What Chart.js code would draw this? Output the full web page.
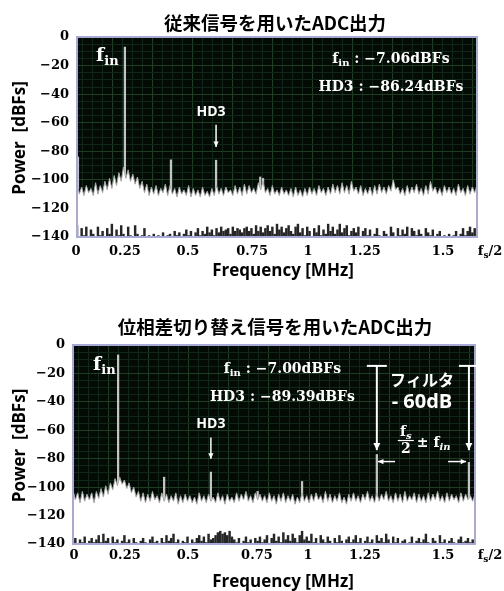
<!DOCTYPE html>
<html><head><meta charset="utf-8">
<script src="https://cdn.jsdelivr.net/npm/chart.js@4.4.1/dist/chart.umd.min.js"></script>
<style>
html,body{margin:0;padding:0;background:#fff;}
#wrap{position:relative;width:504px;height:591px;overflow:hidden;}
canvas{position:absolute;left:0;}
#c1{top:0;} #c2{top:290px;}
</style></head><body>
<div id="wrap">
<canvas id="c1" width="504" height="290"></canvas>
<canvas id="c2" width="504" height="301"></canvas>
</div>
<script>
// ---------------- data ----------------
const STEP = 0.01;      // MHz per FFT bin (as read)
const FS_HALF = 1.72;   // MHz, right edge (fs/2)
const yTickValues = [0,-20,-40,-60,-80,-100,-120,-140];
const xTickLabels = ['0','0.25','0.5','0.75','1','1.25','1.5','fs/2'];
const xTickFreq1 = [-0.004,0.206,0.477,0.753,0.993,1.238,1.574,1.776];
const xTickFreq2 = [0.004,0.222,0.492,0.787,1.006,1.249,1.583,1.784];
const title1 = '従来信号を用いたADC出力';
const title2 = '位相差切り替え信号を用いたADC出力';
const xTitle = 'Frequency [MHz]';
const yTitle = 'Power  [dBFs]';

const fin1 = -7.06, hd3_1 = -86.24;
const fin2 = -7.00, hd3_2 = -89.39;

const peakFreq1 = [0.004, 0.206, 0.404, 0.598, 0.788, 0.800];
const peakLevel1 = [-84, fin1, -86, hd3_1, -98, -99];
const peakFreq2 = [0.193, 0.390, 0.590, 0.790, 0.980, 1.300, 1.694];
const peakLevel2 = [fin2, -93, hd3_2, -103, -96, -77, -82.6];

const noiseTop1 = [
-103,-110,-105,-111,-104,-109,-106,-111,-102,-110,
-104,-109,-101,-107,-99,-106,-97,-104,-95,-101,
-91,-99,-93,-101,-96,-103,-98,-106,-101,-109,
-103,-111,-105,-110,-104,-111,-106,-109,-103,-111,
-104,-110,-106,-112,-105,-110,-107,-111,-104,-112,
-106,-111,-107,-112,-105,-111,-108,-112,-106,-111,
-104,-110,-106,-111,-105,-109,-107,-111,-104,-110,
-105,-111,-103,-110,-104,-109,-106,-110,-102,-107,
-101,-109,-106,-111,-104,-110,-107,-111,-105,-110,
-107,-111,-106,-112,-105,-111,-107,-112,-106,-111,
-105,-110,-106,-111,-104,-109,-106,-111,-105,-110,
-103,-109,-104,-110,-102,-109,-104,-110,-101,-108,
-105,-110,-104,-111,-106,-110,-105,-111,-104,-110,
-103,-109,-105,-110,-104,-108,-100,-107,-105,-110,
-106,-111,-104,-110,-105,-109,-103,-110,-106,-111,
-104,-110,-101,-108,-105,-110,-106,-111,-104,-109,
-105,-110,-106,-111,-103,-109,-106,-111,-104,-110,
-105,-109,-104];
const noiseBottom1 = [
-132,-140,-134,-139,-133,-140,-135,-138,-140,-133,
-139,-136,-140,-134,-138,-131,-140,-135,-139,-132,
-138,-140,-133,-139,-140,-132,-138,-140,-139,-134,
-140,-139,-140,-138,-140,-139,-140,-137,-140,-139,
-138,-140,-136,-139,-137,-140,-138,-135,-139,-136,
-140,-137,-134,-139,-136,-138,-133,-137,-135,-139,
-134,-137,-133,-136,-135,-134,-138,-133,-136,-134,
-135,-137,-134,-133,-136,-134,-138,-132,-136,-133,
-137,-134,-132,-136,-133,-138,-131,-135,-133,-137,
-134,-132,-136,-138,-133,-131,-137,-134,-139,-133,
-136,-140,-134,-137,-132,-139,-135,-138,-131,-136,
-133,-138,-135,-131,-137,-134,-132,-139,-136,-134,
-137,-133,-140,-136,-134,-139,-135,-140,-138,-134,
-139,-140,-136,-138,-140,-133,-137,-140,-134,-139,
-135,-138,-133,-140,-134,-136,-139,-135,-138,-140,
-134,-137,-139,-135,-140,-138,-136,-140,-139,-140,
-138,-140,-139,-136,-140,-138,-134,-139,-136,-133,
-137,-134,-135];

const noiseTop2 = [
-102,-109,-104,-111,-103,-110,-105,-109,-104,-111,
-103,-108,-101,-107,-99,-105,-97,-102,-94,-99,
-93,-98,-95,-101,-97,-104,-100,-107,-103,-110,
-104,-111,-105,-110,-103,-109,-106,-111,-104,-110,
-105,-111,-106,-110,-104,-112,-106,-111,-105,-110,
-106,-111,-107,-112,-104,-110,-106,-111,-105,-110,
-107,-111,-104,-110,-106,-112,-105,-110,-107,-111,
-104,-110,-105,-109,-103,-110,-106,-111,-104,-109,
-105,-110,-106,-111,-104,-110,-106,-112,-105,-110,
-104,-111,-106,-110,-105,-112,-107,-111,-104,-110,
-106,-111,-105,-110,-104,-109,-106,-111,-103,-110,
-105,-111,-106,-110,-104,-111,-107,-112,-105,-110,
-104,-110,-106,-111,-105,-109,-103,-110,-106,-111,
-104,-110,-105,-109,-103,-110,-106,-111,-104,-110,
-105,-111,-103,-110,-106,-109,-104,-111,-105,-110,
-106,-111,-104,-110,-105,-109,-103,-110,-106,-111,
-104,-110,-105,-109,-106,-111,-104,-110,-105,-109,
-106,-110,-105];
const noiseBottom2 = [
-138,-136,-140,-137,-139,-135,-140,-138,-136,-139,
-137,-134,-139,-133,-138,-136,-140,-135,-139,-137,
-140,-138,-134,-139,-137,-140,-136,-139,-140,-138,
-136,-139,-140,-137,-135,-139,-138,-140,-136,-139,
-134,-138,-136,-133,-139,-137,-140,-138,-139,-135,
-140,-137,-139,-136,-134,-138,-135,-139,-133,-137,
-136,-134,-132,-131,-133,-132,-134,-131,-135,-137,
-139,-136,-140,-138,-135,-139,-137,-140,-136,-138,
-135,-139,-137,-134,-140,-136,-133,-138,-135,-139,
-132,-137,-134,-138,-133,-136,-139,-134,-131,-137,
-135,-138,-133,-139,-136,-140,-134,-137,-139,-135,
-138,-140,-136,-139,-134,-138,-140,-137,-135,-139,
-137,-134,-139,-136,-140,-138,-135,-139,-137,-140,
-134,-138,-136,-139,-133,-137,-140,-135,-139,-136,
-140,-138,-137,-140,-139,-135,-140,-138,-136,-139,
-137,-133,-139,-140,-136,-138,-140,-134,-139,-137,
-140,-138,-136,-139,-140,-137,-135,-139,-138,-136,
-139,-137,-138];

// ---------------- drawing helpers ----------------
const SERIF = '"DejaVu Serif"';
const SANS = '"Open Sans"';
const CJK = '"Noto Sans CJK JP"';
const minus = v => (v < 0 ? '\u2212' : '') + Math.abs(v);
const lvl = v => (v < 0 ? '\u2212' : '') + Math.abs(v).toFixed(2) + 'dBFs';

function runs(ctx, parts, x, y, align) {
  let w = 0;
  parts.forEach(p => { ctx.font = p[1]; p.w = ctx.measureText(p[0]).width; w += p.w; });
  let cx = align === 'center' ? x - w / 2 : (align === 'right' ? x - w : x);
  ctx.textAlign = 'left';
  parts.forEach(p => { ctx.font = p[1]; ctx.fillText(p[0], cx, y + (p[2] || 0)); cx += p.w; });
  return w;
}
function arrow(ctx, x1, y1, x2, y2, h) {
  ctx.beginPath(); ctx.moveTo(x1, y1); ctx.lineTo(x2, y2); ctx.stroke();
  const a = Math.atan2(y2 - y1, x2 - x1);
  ctx.beginPath();
  ctx.moveTo(x2, y2);
  ctx.lineTo(x2 - h * Math.cos(a - 0.45), y2 - h * Math.sin(a - 0.45));
  ctx.lineTo(x2 - h * Math.cos(a + 0.45), y2 - h * Math.sin(a + 0.45));
  ctx.closePath(); ctx.fill();
}
function drawTick(ctx, t, x, y) {
  ctx.fillStyle = '#000'; ctx.textBaseline = 'alphabetic';
  if (t === 'fs/2') {
    runs(ctx, [['f', 'bold 13px ' + SERIF], ['s', 'bold 9px ' + SERIF, 3], ['/2', 'bold 13px ' + SERIF]], x, y + 5, 'center');
  } else {
    ctx.font = 'bold 13px ' + SERIF; ctx.textAlign = 'center'; ctx.fillText(t, x, y + 5);
  }
}

function buildChart(id, o) {
  const top = o.noiseTop.map((y, i) => ({ x: +(i * STEP).toFixed(3), y }));
  const bot = o.noiseBottom.map((y, i) => ({ x: +(i * STEP).toFixed(3), y: [-140, y] }));
  const pk = o.peakFreq.map((f, i) => ({ x: f, y: [-118, o.peakLevel[i]] }));
  const deco = {
    id: 'deco' + id,
    beforeDraw(chart) {
      const c = chart.ctx, a = chart.chartArea;
      c.save(); c.fillStyle = '#040b05'; c.fillRect(a.left, a.top, a.width, a.height); c.restore();
    },
    afterDraw(chart) {
      const c = chart.ctx, a = chart.chartArea;
      const X = v => chart.scales.x.getPixelForValue(v), Y = v => chart.scales.y.getPixelForValue(v);
      c.save();
      c.strokeStyle = '#a9a9d8'; c.lineWidth = 2;
      c.strokeRect(a.left, a.top, a.width, a.height);
      // x tick labels
      xTickLabels.forEach((t, i) => drawTick(c, t, X(o.xTickFreq[i]), a.bottom + o.tickDy));
      // titles
      c.fillStyle = '#000'; c.textAlign = 'center'; c.textBaseline = 'middle';
      c.font = 'bold 18.5px ' + CJK; c.fillText(o.title, 275, o.titleY);
      c.font = 'bold 17px ' + SANS; c.fillText(xTitle, 283, o.xTitleY);
      c.save(); c.translate(20, (a.top + a.bottom) / 2 + 1); c.rotate(-Math.PI / 2);
      c.fillText(yTitle, 0, 0); c.restore();
      // annotations
      c.fillStyle = '#fff'; c.strokeStyle = '#fff'; c.textBaseline = 'alphabetic';
      o.annot(c, X, Y);
      c.restore();
    }
  };
  return new Chart(document.getElementById(id), {
    type: 'line',
    data: {
      datasets: [
        { type: 'bar', data: bot, backgroundColor: '#262626', borderWidth: 0, barThickness: 1.8, grouped: false, order: 1 },
        { data: top, borderColor: '#a8a8a8', borderWidth: 1, backgroundColor: '#ffffff', fill: 'start', pointRadius: 0, tension: 0, order: 2 },
        { type: 'bar', data: pk, backgroundColor: '#c4c4c4', borderWidth: 0, barThickness: 1.6, grouped: false, order: 3 }
      ]
    },
    options: {
      responsive: false, animation: false, devicePixelRatio: 1,
      layout: { padding: o.pad },
      plugins: { legend: { display: false }, tooltip: { enabled: false }, title: { display: false } },
      scales: {
        x: {
          type: 'linear', min: 0, max: FS_HALF, offset: false,
          ticks: { display: false, count: 41, autoSkip: false },
          grid: { drawTicks: false, color: c => (c.index % 4 === 0 ? '#1e3d22' : '#11261a'), lineWidth: 1 },
          border: { display: false },
          afterFit: s => { s.height = 0; }
        },
        y: {
          min: -140, max: 0,
          ticks: {
            stepSize: 5, autoSkip: false, padding: 8, color: '#000',
            font: { family: 'DejaVu Serif', weight: 'bold', size: 13 },
            callback: v => (yTickValues.includes(v) ? minus(v) : '')
          },
          grid: { drawTicks: false, color: c => (c.index % 4 === 0 ? '#1e3d22' : '#11261a'), lineWidth: 1 },
          border: { display: false },
          afterFit: s => { s.width = o.yWidth; }
        }
      }
    },
    plugins: [deco]
  });
}

buildChart('c1', {
  noiseTop: noiseTop1, noiseBottom: noiseBottom1, peakFreq: peakFreq1, peakLevel: peakLevel1,
  xTickFreq: xTickFreq1, title: title1, titleY: 23, xTitleY: 271, tickDy: 13,
  pad: { top: 37, right: 27, bottom: 53, left: 0 }, yWidth: 77,
  annot(c, X, Y) {
    runs(c, [['f', 'bold 19px ' + SERIF], ['in', 'bold 13px ' + SERIF, 4]], X(0.082), Y(-17), 'left');
    runs(c, [['f', 'bold 14px ' + SERIF], ['in', 'bold 10px ' + SERIF, 3], [' : ' + lvl(fin1), 'bold 14px ' + SERIF]], X(1.35), Y(-18.5), 'center');
    runs(c, [['HD3 : ' + lvl(hd3_1), 'bold 14px ' + SERIF]], X(1.35), Y(-38), 'center');
    c.font = 'bold 14px ' + SANS; c.textAlign = 'center'; c.textBaseline = 'middle';
    c.fillText('HD3', X(0.576), Y(-52.5));
    c.lineWidth = 1.5; arrow(c, X(0.598), Y(-61.5), X(0.598), Y(-77), 6);
  }
});

buildChart('c2', {
  noiseTop: noiseTop2, noiseBottom: noiseBottom2, peakFreq: peakFreq2, peakLevel: peakLevel2,
  xTickFreq: xTickFreq2, title: title2, titleY: 37, xTitleY: 292, tickDy: 10,
  pad: { top: 55, right: 29, bottom: 47, left: 0 }, yWidth: 73,
  annot(c, X, Y) {
    runs(c, [['f', 'bold 19px ' + SERIF], ['in', 'bold 13px ' + SERIF, 4]], X(0.086), Y(-17.5), 'left');
    runs(c, [['f', 'bold 14px ' + SERIF], ['in', 'bold 10px ' + SERIF, 3], [' : ' + lvl(fin2), 'bold 14px ' + SERIF]], X(0.896), Y(-19.6), 'center');
    runs(c, [['HD3 : ' + lvl(hd3_2), 'bold 14px ' + SERIF]], X(0.896), Y(-39.2), 'center');
    c.font = 'bold 14px ' + SANS; c.textAlign = 'center'; c.textBaseline = 'middle';
    c.fillText('HD3', X(0.59), Y(-55.3));
    c.lineWidth = 1.5; arrow(c, X(0.59), Y(-65), X(0.59), Y(-80), 6);
    // filter markers (T bars with arrows)
    c.lineWidth = 2;
    [1.30, 1.694].forEach(f => {
      const x = X(f);
      c.beginPath(); c.moveTo(x - 10, Y(-14.7)); c.lineTo(x + 10, Y(-14.7)); c.stroke();
      arrow(c, x, Y(-14.7), x, Y(-74), 8);
    });
    c.font = 'bold 16px ' + CJK; c.textAlign = 'center'; c.textBaseline = 'middle';
    c.fillText('フィルタ', X(1.493), Y(-24.5));
    c.font = 'bold 20px ' + SANS; c.fillText('- 60dB', X(1.493), Y(-40.6));
    // fs/2 ± fin
    const fx = X(1.424);
    c.textBaseline = 'alphabetic';
    runs(c, [['f', 'bold 14px ' + SERIF], ['s', 'italic bold 10px ' + SERIF, 3]], fx, Y(-64), 'center');
    c.lineWidth = 1.2; c.beginPath(); c.moveTo(fx - 8, Y(-67.2)); c.lineTo(fx + 8, Y(-67.2)); c.stroke();
    runs(c, [['2', 'bold 14px ' + SERIF]], fx, Y(-76), 'center');
    runs(c, [['\u00b1 f', 'bold 14px ' + SERIF], ['in', 'italic bold 10px ' + SERIF, 3]], fx + 11, Y(-71.5), 'left');
    c.lineWidth = 1.5;
    arrow(c, X(1.378), Y(-82), X(1.305), Y(-82), 6);
    arrow(c, X(1.605), Y(-82), X(1.682), Y(-82), 6);
  }
});
</script>
</body></html>
